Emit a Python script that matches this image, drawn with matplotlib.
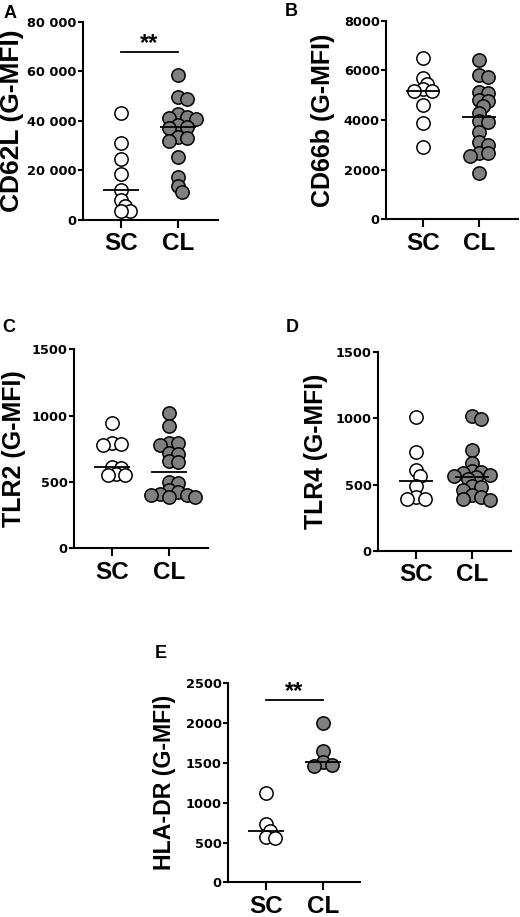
import matplotlib
matplotlib.use("Agg")
import matplotlib.pyplot as plt
from matplotlib.ticker import FuncFormatter
import numpy as np

plt.rcParams["font.family"] = ["Liberation Sans", "DejaVu Sans"]
plt.rcParams["font.weight"] = "bold"

groups = ["SC", "CL"]

# values (G-MFI)
cd62l_sc = [43000, 30900, 24600, 18500, 12100, 8070, 5800, 3630, 3630]
cd62l_cl = [58500, 49500, 48700, 42800, 41700, 41000, 40600, 38300, 37600,
            37000, 33400, 33000, 32000, 25500, 17500, 13700, 11200]

cd66b_sc = [6480, 5700, 5450, 5235, 5180, 5165, 4600, 3870, 2900]
cd66b_cl = [6415, 5810, 5720, 5140, 5100, 4805, 4775, 4560, 4290,
            3970, 3930, 3530, 3125, 2990, 2680, 2680, 2550, 1850]

tlr2_sc = [942, 791, 786, 778, 610, 605, 560, 552, 552]
tlr2_cl = [1017, 922, 796, 790, 780, 716, 711, 660, 653,
           502, 490, 440, 427, 410, 402, 400, 389, 385]

tlr4_sc = [1008, 749, 610, 565, 490, 404, 389, 389]
tlr4_cl = [1020, 995, 765, 660, 605, 595, 585, 570, 565,
           555, 545, 490, 480, 460, 420, 405, 393, 385]

hla_sc = [1118, 732, 650, 565, 553]
hla_cl = [1997, 1653, 1515, 1473, 1461]

ylabels = ["CD62L (G-MFI)", "CD66b (G-MFI)", "TLR2 (G-MFI)", "TLR4 (G-MFI)", "HLA-DR (G-MFI)"]
letters = ["A", "B", "C", "D", "E"]
ymax = [80000, 8000, 1500, 1500, 2500]
ystep = [20000, 2000, 500, 500, 500]
sig_y = [67900, None, None, None, 2286]

W, H = 520, 917
fig = plt.figure(figsize=(W / 100, H / 100), dpi=100)

# layout in pixels: left, top, right, bottom, x of SC tick, x of CL tick
boxes = [
    (83, 21.7, 218, 220, 121, 178),
    (386, 20.7, 518, 219.3, 423, 479),
    (74, 349.3, 208, 548.3, 112, 169),
    (378, 352.3, 511, 550.7, 416, 472),
    (228, 683.3, 360, 882.3, 266, 323),
]
label_cx = [12, 323, 14, 316, 165]   # centre of the y label, px
label_size = [19, 18, 18, 17.8, 16.7]
letter_pos = [(10, 13), (291, 11), (9, 328), (292, 328), (161, 654)]

diam = 13.3  # marker diameter, px


def swarm_offsets(ax, values, diam_px, gap=0.5):
    pts = ax.transData.transform(np.column_stack([np.zeros(len(values)), values]))
    ys = pts[:, 1]
    order = np.argsort(ys)[::-1]
    placed = []
    offs = np.zeros(len(values))
    step = diam_px * 0.33
    for i in order:
        k = 0
        found = None
        while found is None:
            cands = [0.0] if k == 0 else [k * step, -k * step]
            for c in cands:
                if all((c - px) ** 2 + (ys[i] - py) ** 2 >= (gap * diam_px) ** 2
                       for px, py in placed):
                    found = c
                    break
            k += 1
        offs[i] = found
        placed.append((found, ys[i]))
    ppu = ax.transData.transform((1, 0))[0] - ax.transData.transform((0, 0))[0]
    return offs / ppu


data = [(cd62l_sc, cd62l_cl), (cd66b_sc, cd66b_cl), (tlr2_sc, tlr2_cl),
        (tlr4_sc, tlr4_cl), (hla_sc, hla_cl)]

for n, (sc, cl) in enumerate(data):
    l, t, r, b, xs, xc = boxes[n]
    ax = fig.add_axes([l / W, 1 - b / H, (r - l) / W, (b - t) / H])
    ax.set_xlim((l - xs) / (xc - xs), (r - xs) / (xc - xs))
    ax.set_ylim(0, ymax[n])

    for g, (vals, fc) in enumerate([(sc, "white"), (cl, "#808080")]):
        vals = np.array(vals, dtype=float)
        off = swarm_offsets(ax, vals, diam)
        ax.scatter(g + off, vals, s=(diam * 0.72) ** 2, facecolor=fc,
                   edgecolor="black", linewidth=1.1, zorder=3, clip_on=False)
        ax.hlines(np.median(vals), g - 0.31, g + 0.31, color="black", lw=1.3, zorder=4)

    if sig_y[n] is not None:
        ax.plot([0, 1], [sig_y[n], sig_y[n]], color="black", lw=1.3)
        ax.text(0.5, sig_y[n] + ymax[n] * 0.01, "**", ha="center", va="baseline",
                fontsize=17, fontweight="bold")

    for s in ["top", "right"]:
        ax.spines[s].set_visible(False)
    for s in ["left", "bottom"]:
        ax.spines[s].set_linewidth(1.5)

    ax.set_xticks([0, 1])
    ax.set_xticklabels(groups, fontsize=17.5, fontweight="bold")
    ax.tick_params(axis="x", length=6, width=1.5, pad=3)
    ax.set_yticks(np.arange(0, ymax[n] + 1, ystep[n]))
    if n == 0:
        ax.yaxis.set_major_formatter(FuncFormatter(lambda v, p: f"{int(v):,}".replace(",", " ")))
    else:
        ax.yaxis.set_major_formatter(FuncFormatter(lambda v, p: f"{int(v)}"))
    ax.tick_params(axis="y", length=3.5, width=1.5, pad=1)
    for lab in ax.get_yticklabels():
        lab.set_fontfamily("DejaVu Sans")
        lab.set_fontweight("bold")
        lab.set_fontsize(9.3)

    ax.set_ylabel(ylabels[n], fontsize=label_size[n], fontweight="bold", va="center")
    ax.yaxis.set_label_coords((label_cx[n] - l) / (r - l), 0.5)

    lx, ly = letter_pos[n]
    fig.text(lx / W, 1 - ly / H, letters[n], ha="center", va="center",
             fontsize=13, fontweight="bold")

fig.savefig("out.png", dpi=100, facecolor="white")
